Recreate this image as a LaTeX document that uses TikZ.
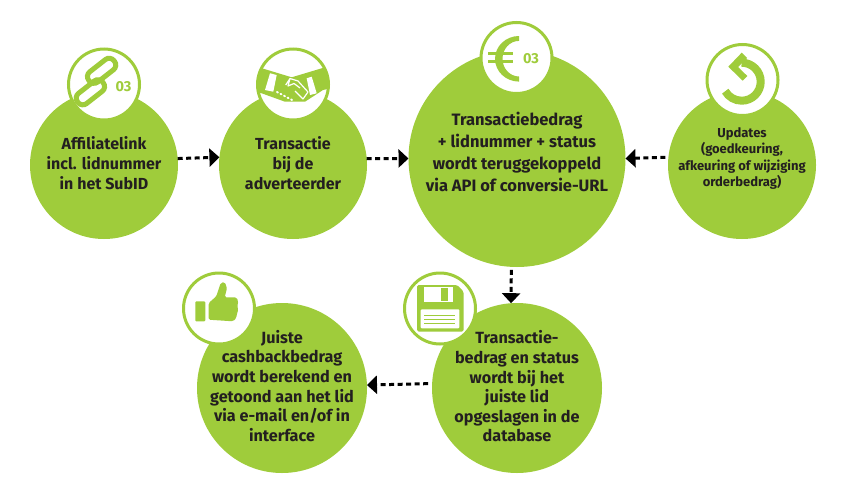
\documentclass[tikz,border=0pt]{standalone}
\usepackage{fontspec}
\setmainfont{Fira Sans}
\usetikzlibrary{arrows.meta}
\definecolor{leaf}{HTML}{9FCC3B}
\definecolor{ink}{HTML}{231F20}
\begin{document}
\begin{tikzpicture}[
        x=1pt, y=-1pt,
        disc/.style={circle, fill=leaf, inner sep=0pt, outer sep=0pt},
        icon/.style={circle, draw=leaf, fill=white, line width=3pt, minimum size=71pt, inner sep=0pt, outer sep=0pt},
        txt/.style={align=center, text=ink, inner sep=0pt, font=\bfseries\fontsize{16}{20}\selectfont},
        num/.style={text=leaf, inner sep=0pt, font=\bfseries\fontsize{14.5}{14.5}\selectfont},
        flow/.style={-{Triangle[length=10pt,width=18pt]}, line width=3pt, dash pattern=on 5pt off 3.5pt, black}
    ]
    \useasboundingbox (0,0) rectangle (850,498);

    % big discs
    \node[disc, minimum size=148pt] (nlink) at (104,165) {};
    \node[disc, minimum size=148pt] (ntrans) at (293,165) {};
    \node[disc, minimum size=217pt] (nbedrag) at (517,158.5) {};
    \node[disc, minimum size=148pt] (nupd) at (742,165) {};
    \node[disc, minimum size=170pt] (nopsl) at (517,388) {};
    \node[disc, minimum size=170pt] (nlid) at (282,388) {};

    % icon discs
    \node[icon] (ilink) at (104,84.5) {};
    \node[icon] (itrans) at (293,84.5) {};
    \node[icon] (ibedrag) at (516.5,58) {};
    \node[icon] (iupd) at (742.5,80) {};
    \node[icon] (iopsl) at (440,308.5) {};
    \node[icon] (ilid) at (219,308.5) {};

    % texts
    \node[txt] (tlink) at (104,163.5) {Affiliatelink\\incl. lidnummer\\in het SubID};
    \node[txt] (ttrans) at (293,163.5) {Transactie\\bij de\\adverteerder};
    \node[txt, font=\bfseries\fontsize{16.5}{22}\selectfont] (tbedrag) at (517,151.7) {Transactiebedrag\\+ lidnummer + status\\wordt teruggekoppeld\\via API of conversie-URL};
    \node[txt, font=\bfseries\fontsize{13}{16.3}\selectfont] (tupd) at (742,158.4) {Updates\\(goedkeuring,\\afkeuring of wijziging\\orderbedrag)};
    \node[txt, font=\bfseries\fontsize{16.2}{19.6}\selectfont] (topsl) at (517,386.5) {Transactie-\\bedrag en status\\wordt bij het\\juiste lid\\opgeslagen in de\\database};
    \node[txt, font=\bfseries\fontsize{16.2}{19.6}\selectfont] (tlid) at (282,385.8) {Juiste\\cashbackbedrag\\wordt berekend en\\getoond aan het lid\\via e-mail en/of in\\interface};

    % connectors
    \draw[flow] (nlink.5.4) -- (ntrans.174.6);
    \draw[flow] (ntrans.5.4) -- (nbedrag.west);
    \draw[flow, shorten <=3pt] (nupd.174.6) -- (nbedrag.east);
    \draw[flow, shorten <=3pt] (nbedrag.-93.2) -- (nopsl.94);
    \draw[flow, shorten <=4pt] (nopsl.177.3) -- (nlid.2.7);

    % chain
    \begin{scope}[draw=leaf, line width=5pt]
        \draw[rounded corners=6pt, rotate around={38:(90.4,92.3)}] (74.4,85.8) rectangle (106.4,98.8);
        \draw[rounded corners=6pt, rotate around={38:(101.6,70.8)}] (85.6,64.3) rectangle (117.6,77.3);
    \end{scope}
    \node[num] (nrlink) at (123.5,87) {03};

    % handshake
    \begin{scope}
        \clip (293,84.5) circle (35.5);
        \fill[leaf] (255,66) -- (262,68.3) -- (291.7,77.3) -- (321.7,68.3) -- (332,64) -- (332,88) -- (323,90) -- (305,101.7) -- (285,101.7) -- (261.7,93.3) -- (255,92) -- cycle;
        \fill[white] (270,73.3) -- (276.7,75) -- (273.3,91.7) -- (265,90) -- cycle;
        \fill[white] (306.7,78.3) -- (311.7,76.7) -- (316.7,93.3) -- (310,95) -- cycle;
        \draw[white, line width=1.2pt, line join=round] (285.7,85) -- (290,78.5) -- (298,81) -- (308,92) -- (303,99) -- (295,91) (290,78.5) -- (288,86) -- (294,83.5) -- (300,88);
        \draw[white, line width=2pt, line cap=round, dash pattern=on 1pt off 3pt] (277,92) -- (293,100.5);
    \end{scope}

    % euro
    \fill[leaf] (519,36) arc (-90:-270:24 and 22.8) -- (519,76.5) arc (-270:-90:16.5 and 17.8) -- cycle;
    \draw[leaf, line width=3pt] (488,53) -- (513,53) (488,61.5) -- (513,61.5);
    \node[num] (nrbedrag) at (531,59) {03};

    % undo arrow
    \draw[leaf, line width=8pt] (741.7,62.7) arc (-90:150:19);
    \fill[leaf] (741.7,52.7) -- (728.3,66.7) -- (742.7,80.7) -- (747.3,76) -- (738,67) -- (747,58) -- cycle;

    % floppy
    \fill[leaf, rounded corners=1.5pt] (417,285) -- (457,285) -- (463.5,291.5) -- (463.5,331.5) -- (417,331.5) -- cycle;
    \fill[white] (424,286.5) rectangle (453.3,301.5);
    \fill[leaf] (441,288.3) rectangle (448.3,300.5);
    \fill[white, rounded corners=1pt] (420.7,309.3) rectangle (459.3,328.3);
    \draw[leaf, line width=0.7pt] (424,315) -- (455,315) (424,319.3) -- (455,319.3) (424,323.3) -- (455,323.3);

    % thumb
    \fill[leaf, rounded corners=1pt] (195.3,301.3) rectangle (205.3,321.3);
    \fill[leaf, rounded corners=1.5pt] (208.7,303) -- (216.3,296.3) -- (220.7,283) -- (224.7,282) -- (227,288) -- (224.7,297.3) -- (236.3,297.3) -- (238.3,301.3) -- (237.3,306.3) -- (238.3,309.7) -- (236.7,314.7) -- (236.3,318) -- (233,321.3) -- (208.7,319.7) -- cycle;
\end{tikzpicture}
\end{document}
